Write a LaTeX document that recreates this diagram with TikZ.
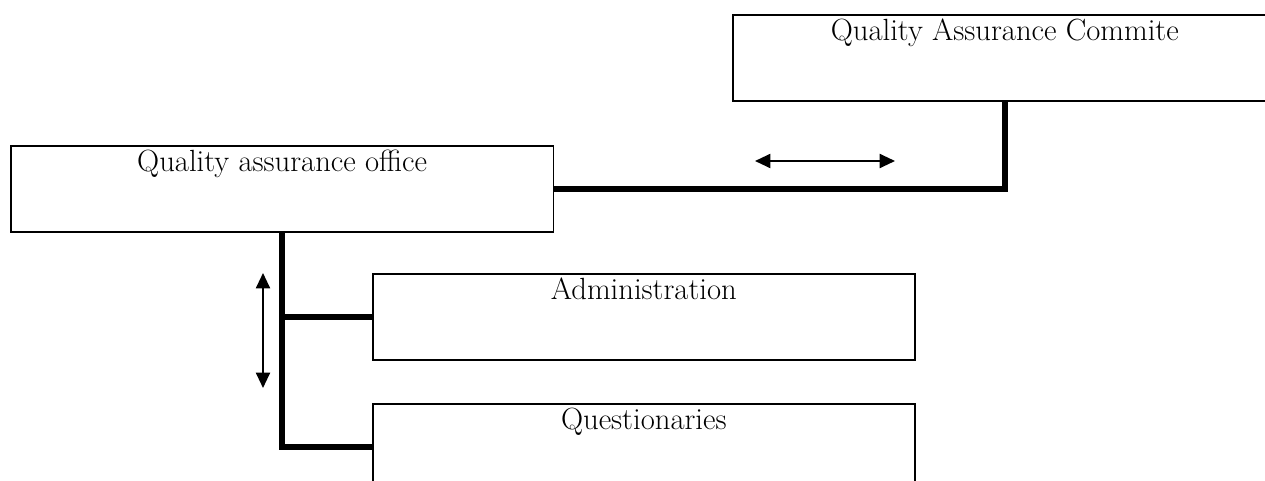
\documentclass[tikz,border=0pt]{standalone}
\usetikzlibrary{arrows.meta}
\tikzset{
  box/.style={draw, line width=1.2pt, rectangle, anchor=north west, inner sep=0pt,
    minimum width=407pt, minimum height=64.5pt, text height=19pt, text depth=45.5pt,
    font=\fontsize{23}{27}\selectfont},
  conn/.style={line width=4.1pt},
  dbl/.style={line width=1.5pt, {Triangle[length=11.5pt,width=10.5pt]}-{Triangle[length=11.5pt,width=10.5pt]}}
}
\begin{document}
\begin{tikzpicture}[x=0.75pt,y=-0.75pt]
\useasboundingbox (0,0) rectangle (1265,481);
\node[box, minimum width=408pt] (qac) at (732,14) {Quality Assurance Commite};
\node[box] (qao) at (10,145) {Quality assurance office};
\node[box, minimum width=406.5pt] (adm) at (372,273) {Administration};
\node[box, minimum width=406.5pt] (que) at (372,403) {Questionaries};
\draw[conn] (qac.south) |- (qao.east);
\draw[conn] (qao.south) |- (que.west);
\draw[conn] (qao.south |- adm.west) -- (adm.west);
\coordinate (h1) at (755,161);
\coordinate (h2) at (895,161);
\coordinate (v1) at (263,273);
\coordinate (v2) at (263,388);
\draw[dbl] (h1) -- (h2);
\draw[dbl] (v1) -- (v2);
\end{tikzpicture}
\end{document}
